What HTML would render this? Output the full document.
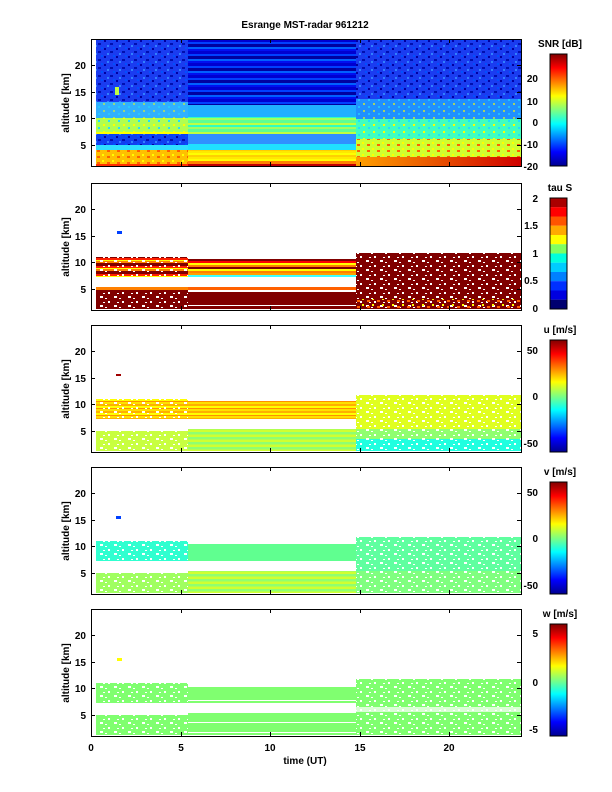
<!DOCTYPE html>
<html><head><meta charset="utf-8">
<style>body{margin:0;background:#fff;}svg{display:block;}</style></head><body>
<svg width="612" height="792" viewBox="0 0 612 792" xmlns="http://www.w3.org/2000/svg" font-family="Liberation Sans, sans-serif" font-size="10" font-weight="bold">
<defs>
<pattern id="sw" width="14" height="9" patternUnits="userSpaceOnUse"><rect x="3" y="1" width="2" height="2" fill="#fff"/><rect x="9" y="5" width="3" height="2" fill="#fff"/><rect x="0" y="7" width="2" height="1" fill="#fff"/><rect x="12" y="2" width="2" height="1" fill="#fff"/></pattern>
<pattern id="sd" width="12" height="8" patternUnits="userSpaceOnUse"><rect x="1" y="1" width="2" height="2" fill="#0000a0"/><rect x="7" y="4" width="3" height="2" fill="#0010b0"/><rect x="4" y="6" width="2" height="2" fill="#3080ff"/><rect x="10" y="0" width="2" height="2" fill="#0050ff"/></pattern>
<pattern id="sy" width="10" height="7" patternUnits="userSpaceOnUse"><rect x="2" y="1" width="2" height="2" fill="#ffff00"/><rect x="7" y="4" width="2" height="2" fill="#20e0ff"/></pattern>
<pattern id="so" width="10" height="6" patternUnits="userSpaceOnUse"><rect x="1" y="1" width="2" height="2" fill="#ffff00"/><rect x="6" y="3" width="3" height="2" fill="#ff6000"/></pattern>
<pattern id="stB" width="10" height="12" patternUnits="userSpaceOnUse"><rect y="0" width="10" height="3" fill="#0000d0"/><rect y="3" width="10" height="2" fill="#0040ff"/><rect y="5" width="10" height="3" fill="#0000a0"/><rect y="8" width="10" height="2" fill="#0060ff"/><rect y="10" width="10" height="2" fill="#0010f0"/></pattern>
<pattern id="stG" width="10" height="9" patternUnits="userSpaceOnUse"><rect y="0" width="10" height="3" fill="#60ff90"/><rect y="3" width="10" height="2" fill="#c0ff40"/><rect y="5" width="10" height="2" fill="#30ffc0"/><rect y="7" width="10" height="2" fill="#a0ff60"/></pattern>
<pattern id="stY" width="10" height="6" patternUnits="userSpaceOnUse"><rect y="0" width="10" height="2" fill="#ffff00"/><rect y="2" width="10" height="2" fill="#ffd000"/><rect y="4" width="10" height="2" fill="#ffe800"/></pattern>
<pattern id="stR" width="10" height="8" patternUnits="userSpaceOnUse"><rect y="0" width="10" height="3" fill="#800000"/><rect y="3" width="10" height="2" fill="#ff2000"/><rect y="5" width="10" height="1" fill="#ffff00"/><rect y="6" width="10" height="2" fill="#ff8000"/></pattern>
<pattern id="stO" width="10" height="7" patternUnits="userSpaceOnUse"><rect y="0" width="10" height="2" fill="#ffe000"/><rect y="2" width="10" height="2" fill="#ffb000"/><rect y="4" width="10" height="2" fill="#ffff00"/><rect y="6" width="10" height="1" fill="#ff9000"/></pattern>
<pattern id="stGY" width="10" height="5" patternUnits="userSpaceOnUse"><rect y="0" width="10" height="2" fill="#d0ff30"/><rect y="2" width="10" height="2" fill="#90ff70"/><rect y="4" width="10" height="1" fill="#b0ff50"/></pattern>
<linearGradient id="hr" x1="0" x2="1" y1="0" y2="0"><stop offset="0" stop-color="#ffa000"/><stop offset="1" stop-color="#d00000"/></linearGradient>
<linearGradient id="jet" x1="0" x2="0" y1="1" y2="0"><stop offset="0" stop-color="#00008f"/><stop offset="0.125" stop-color="#0000ff"/><stop offset="0.375" stop-color="#00ffff"/><stop offset="0.625" stop-color="#ffff00"/><stop offset="0.875" stop-color="#ff0000"/><stop offset="1" stop-color="#800000"/></linearGradient>
</defs>

<text x="305" y="28" text-anchor="middle">Esrange MST-radar 961212</text>

<g transform="translate(91,39)">
<rect x="5" y="0" width="92" height="63" fill="#1a3cf0"/><rect x="5" y="0" width="92" height="63" fill="url(#sd)"/>
<rect x="5" y="63" width="92" height="16" fill="#30b0ff"/><rect x="5" y="63" width="92" height="16" fill="url(#sy)" opacity="0.5"/>
<rect x="5" y="79" width="92" height="14" fill="#b0ff50"/><rect x="5" y="79" width="92" height="14" fill="url(#sy)"/>
<rect x="5" y="93" width="92" height="2" fill="#ffff00"/>
<rect x="5" y="95" width="92" height="11" fill="#1040f0"/><rect x="5" y="95" width="92" height="11" fill="url(#sd)"/>
<rect x="5" y="106" width="92" height="5" fill="#30e0ff"/>
<rect x="5" y="111" width="92" height="14" fill="#ffc000"/><rect x="5" y="111" width="92" height="14" fill="url(#so)"/>
<rect x="5" y="125" width="92" height="2" fill="#ff3000"/>
<rect x="24" y="48" width="4" height="8" fill="#c0ff40"/>
<rect x="97" y="0" width="168" height="66" fill="url(#stB)"/>
<rect x="97" y="66" width="168" height="12" fill="#20b0ff"/>
<rect x="97" y="78" width="168" height="17" fill="url(#stG)"/>
<rect x="97" y="95" width="168" height="10" fill="#3090ff"/>
<rect x="97" y="105" width="168" height="6" fill="#20e0ff"/>
<rect x="97" y="111" width="168" height="11" fill="url(#stY)"/>
<rect x="97" y="122" width="168" height="3" fill="#ff8000"/>
<rect x="97" y="125" width="168" height="2" fill="#c00000"/>
<rect x="265" y="0" width="165" height="60" fill="#1a3cf0"/><rect x="265" y="0" width="165" height="60" fill="url(#sd)"/>
<rect x="265" y="60" width="165" height="20" fill="#2090ff"/><rect x="265" y="60" width="165" height="20" fill="url(#sy)" opacity="0.6"/>
<rect x="265" y="80" width="165" height="20" fill="#40ffc0"/><rect x="265" y="80" width="165" height="20" fill="url(#sy)"/>
<rect x="265" y="100" width="165" height="18" fill="#d0ff30"/><rect x="265" y="100" width="165" height="18" fill="url(#so)"/>
<rect x="265" y="118" width="165" height="9" fill="url(#hr)"/>
</g>

<g transform="translate(91,183)">
<rect x="5" y="74" width="92" height="20" fill="url(#stR)"/><rect x="5" y="74" width="92" height="20" fill="url(#sw)"/>
<rect x="5" y="104" width="92" height="3" fill="#ff8000"/>
<rect x="5" y="107" width="92" height="19" fill="#800000"/><rect x="5" y="107" width="92" height="19" fill="url(#sw)"/>
<rect x="26" y="48" width="5" height="3" fill="#0040ff"/>
<rect x="97" y="76" width="168" height="2" fill="#800000"/>
<rect x="97" y="78" width="168" height="2" fill="#ff0000"/>
<rect x="97" y="80" width="168" height="2" fill="#ffff00"/>
<rect x="97" y="82" width="168" height="2" fill="#ff8000"/>
<rect x="97" y="84" width="168" height="2" fill="#800000"/>
<rect x="97" y="86" width="168" height="2" fill="#ffff00"/>
<rect x="97" y="88" width="168" height="2" fill="#ff8000"/>
<rect x="97" y="90" width="168" height="2" fill="#ffa000"/>
<rect x="97" y="92" width="168" height="2" fill="#40ffff"/>
<rect x="97" y="104" width="168" height="3" fill="#ff6000"/>
<rect x="97" y="109" width="168" height="13" fill="#800000"/>
<rect x="97" y="123" width="168" height="3" fill="#800000"/>
<rect x="265" y="70" width="165" height="56" fill="#800000"/><rect x="265" y="70" width="165" height="56" fill="url(#sw)"/>
<rect x="265" y="116" width="165" height="10" fill="url(#so)"/>
</g>

<g transform="translate(91,325)">
<rect x="5" y="74" width="92" height="20" fill="url(#stO)"/><rect x="5" y="74" width="92" height="20" fill="url(#sw)"/>
<rect x="5" y="106" width="92" height="20" fill="#c8ff40"/><rect x="5" y="106" width="92" height="20" fill="url(#sw)"/>
<rect x="25" y="49" width="5" height="2" fill="#a00000"/>
<rect x="97" y="76" width="168" height="18" fill="url(#stO)"/>
<rect x="97" y="104" width="168" height="22" fill="url(#stGY)"/>
<rect x="265" y="70" width="165" height="34" fill="#e0ff20"/><rect x="265" y="70" width="165" height="34" fill="url(#sw)"/>
<rect x="265" y="104" width="165" height="10" fill="#90ff70"/><rect x="265" y="104" width="165" height="10" fill="url(#sw)"/>
<rect x="265" y="114" width="165" height="12" fill="#20ffe0"/><rect x="265" y="114" width="165" height="12" fill="url(#sw)"/>
</g>

<g transform="translate(91,467)">
<rect x="5" y="74" width="92" height="20" fill="#30ffd0"/><rect x="5" y="74" width="92" height="20" fill="url(#sw)"/>
<rect x="5" y="106" width="92" height="20" fill="#a0ff60"/><rect x="5" y="106" width="92" height="20" fill="url(#sw)"/>
<rect x="25" y="49" width="5" height="3" fill="#0040ff"/>
<rect x="97" y="77" width="168" height="17" fill="#60ff90"/>
<rect x="97" y="104" width="168" height="22" fill="url(#stGY)"/>
<rect x="265" y="70" width="165" height="34" fill="#60ffa0"/><rect x="265" y="70" width="165" height="34" fill="url(#sw)"/>
<rect x="265" y="104" width="165" height="22" fill="#80ff80"/><rect x="265" y="104" width="165" height="22" fill="url(#sw)"/>
</g>

<g transform="translate(91,609)">
<rect x="5" y="74" width="92" height="20" fill="#80ff70"/><rect x="5" y="74" width="92" height="20" fill="url(#sw)"/>
<rect x="5" y="106" width="92" height="20" fill="#80ff70"/><rect x="5" y="106" width="92" height="20" fill="url(#sw)"/>
<rect x="26" y="49" width="5" height="3" fill="#ffff00"/>
<rect x="97" y="78" width="168" height="16" fill="#80ff70"/><rect x="97" y="91" width="168" height="1" fill="#fff"/>
<rect x="97" y="104" width="168" height="22" fill="#80ff70"/><rect x="97" y="113" width="168" height="1" fill="#fff"/><rect x="97" y="123" width="168" height="1" fill="#fff"/>
<rect x="265" y="70" width="165" height="56" fill="#80ff70"/><rect x="265" y="70" width="165" height="56" fill="url(#sw)"/>
<rect x="265" y="98" width="165" height="5" fill="#fff" opacity="0.7"/>
</g>

<g fill="none" stroke="#000" stroke-width="1">
<rect x="91.5" y="39.5" width="430" height="127"/>
<rect x="91.5" y="183.5" width="430" height="127"/>
<rect x="91.5" y="325.5" width="430" height="127"/>
<rect x="91.5" y="467.5" width="430" height="127"/>
<rect x="91.5" y="609.5" width="430" height="127"/>
</g>
<g stroke="#000" stroke-width="1" fill="none">
<path d="M181.5 39v4M270.5 39v4M360.5 39v4M449.5 39v4M181.5 166v-4M270.5 166v-4M360.5 166v-4M449.5 166v-4 M91 145.5h4M91 118.5h4M91 92.5h4M91 65.5h4M521 145.5h-4M521 118.5h-4M521 92.5h-4M521 65.5h-4"/>
<path transform="translate(0,144)" d="M181.5 39v4M270.5 39v4M360.5 39v4M449.5 39v4M181.5 166v-4M270.5 166v-4M360.5 166v-4M449.5 166v-4 M91 145.5h4M91 118.5h4M91 92.5h4M91 65.5h4M521 145.5h-4M521 118.5h-4M521 92.5h-4M521 65.5h-4"/>
<path transform="translate(0,286)" d="M181.5 39v4M270.5 39v4M360.5 39v4M449.5 39v4M181.5 166v-4M270.5 166v-4M360.5 166v-4M449.5 166v-4 M91 145.5h4M91 118.5h4M91 92.5h4M91 65.5h4M521 145.5h-4M521 118.5h-4M521 92.5h-4M521 65.5h-4"/>
<path transform="translate(0,428)" d="M181.5 39v4M270.5 39v4M360.5 39v4M449.5 39v4M181.5 166v-4M270.5 166v-4M360.5 166v-4M449.5 166v-4 M91 145.5h4M91 118.5h4M91 92.5h4M91 65.5h4M521 145.5h-4M521 118.5h-4M521 92.5h-4M521 65.5h-4"/>
<path transform="translate(0,570)" d="M181.5 39v4M270.5 39v4M360.5 39v4M449.5 39v4M181.5 166v-4M270.5 166v-4M360.5 166v-4M449.5 166v-4 M91 145.5h4M91 118.5h4M91 92.5h4M91 65.5h4M521 145.5h-4M521 118.5h-4M521 92.5h-4M521 65.5h-4"/>
</g>

<g text-anchor="end">
<text x="86" y="149">5</text><text x="86" y="122">10</text><text x="86" y="96">15</text><text x="86" y="69">20</text>
<text x="86" y="293">5</text><text x="86" y="266">10</text><text x="86" y="240">15</text><text x="86" y="213">20</text>
<text x="86" y="435">5</text><text x="86" y="408">10</text><text x="86" y="382">15</text><text x="86" y="355">20</text>
<text x="86" y="577">5</text><text x="86" y="550">10</text><text x="86" y="524">15</text><text x="86" y="497">20</text>
<text x="86" y="719">5</text><text x="86" y="692">10</text><text x="86" y="666">15</text><text x="86" y="639">20</text>
</g>
<g text-anchor="middle">
<text transform="translate(69,103) rotate(-90)">altitude [km]</text>
<text transform="translate(69,247) rotate(-90)">altitude [km]</text>
<text transform="translate(69,389) rotate(-90)">altitude [km]</text>
<text transform="translate(69,531) rotate(-90)">altitude [km]</text>
<text transform="translate(69,673) rotate(-90)">altitude [km]</text>
<text x="91" y="751">0</text><text x="181" y="751">5</text><text x="270" y="751">10</text><text x="360" y="751">15</text><text x="449" y="751">20</text>
<text x="305" y="764">time (UT)</text>
</g>

<rect x="550" y="54" width="17" height="112" fill="url(#jet)" stroke="#000"/>
<g>
<rect x="550" y="198" width="17" height="9.3" fill="#aa0000"/>
<rect x="550" y="207.2" width="17" height="9.3" fill="#ff0000"/>
<rect x="550" y="216.5" width="17" height="9.3" fill="#ff5500"/>
<rect x="550" y="225.7" width="17" height="9.3" fill="#ffaa00"/>
<rect x="550" y="235" width="17" height="9.3" fill="#ffff00"/>
<rect x="550" y="244.2" width="17" height="9.3" fill="#80ff60"/>
<rect x="550" y="253.5" width="17" height="9.3" fill="#00ffdd"/>
<rect x="550" y="262.7" width="17" height="9.3" fill="#00ccff"/>
<rect x="550" y="272" width="17" height="9.3" fill="#0080ff"/>
<rect x="550" y="281.2" width="17" height="9.3" fill="#0030ff"/>
<rect x="550" y="290.5" width="17" height="9.3" fill="#0000e0"/>
<rect x="550" y="299.7" width="17" height="9.3" fill="#000070"/>
<rect x="550" y="198" width="17" height="111" fill="none" stroke="#000"/>
</g>
<rect x="550" y="340" width="17" height="112" fill="url(#jet)" stroke="#000"/>
<rect x="550" y="482" width="17" height="112" fill="url(#jet)" stroke="#000"/>
<rect x="550" y="624" width="17" height="112" fill="url(#jet)" stroke="#000"/>
<g text-anchor="end">
<text x="538" y="170">-20</text><text x="538" y="148">-10</text><text x="538" y="126">0</text><text x="538" y="105">10</text><text x="538" y="82">20</text>
<text x="538" y="312">0</text><text x="538" y="284">0.5</text><text x="538" y="257">1</text><text x="538" y="229">1.5</text><text x="538" y="202">2</text>
<text x="538" y="447">-50</text><text x="538" y="400">0</text><text x="538" y="354">50</text>
<text x="538" y="589">-50</text><text x="538" y="542">0</text><text x="538" y="496">50</text>
<text x="538" y="733">-5</text><text x="538" y="686">0</text><text x="538" y="637">5</text>
</g>
<g text-anchor="middle">
<text x="560" y="47">SNR [dB]</text>
<text x="560" y="191">tau S</text>
<text x="560" y="333">u [m/s]</text>
<text x="560" y="475">v [m/s]</text>
<text x="560" y="617">w [m/s]</text>
</g>
</svg>
</body></html>
